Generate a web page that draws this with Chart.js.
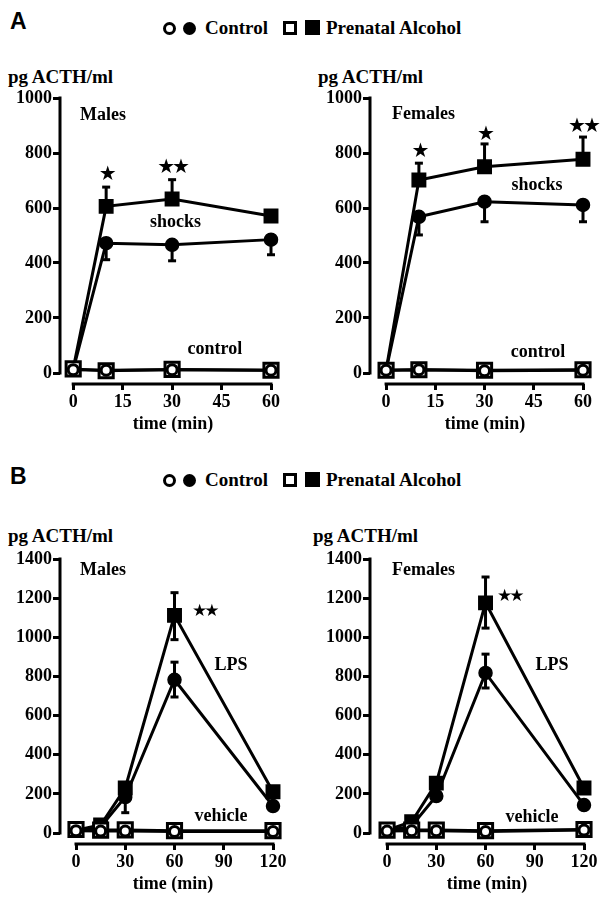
<!DOCTYPE html>
<html><head><meta charset="utf-8">
<script src="https://cdn.jsdelivr.net/npm/chart.js@4.4.1/dist/chart.umd.min.js"></script>
<style>
html,body{margin:0;padding:0;background:#fff;}
body{width:607px;height:902px;position:relative;overflow:hidden;font-family:"Liberation Serif","Times New Roman",serif;font-weight:bold;color:#000;}
.abs{position:absolute;white-space:nowrap;}
canvas{position:absolute;}
.letter{font-family:"Liberation Sans",Arial,sans-serif;font-size:23px;line-height:22px;font-weight:bold;}
.txt{font-size:19px;line-height:20px;}
.ttl{font-size:18px;line-height:20px;transform:translateX(-50%);}
.oc,.fc,.os,.fs{position:absolute;box-sizing:border-box;}
.oc{width:13px;height:13px;border:3px solid #000;border-radius:50%;background:#fff;}
.fc{width:13px;height:13px;border-radius:50%;background:#000;}
.os{width:14px;height:14px;border:3px solid #000;background:#fff;}
.fs{width:15px;height:15px;background:#000;}
</style></head>
<body>
<div class="abs letter" style="left:10px;top:10px;">A</div>
<div class="abs letter" style="left:10px;top:465px;">B</div>

<!-- legend A -->
<div class="oc" style="left:163px;top:22px;"></div>
<div class="fc" style="left:183px;top:22px;"></div>
<div class="abs txt" style="left:205px;top:18px;">Control</div>
<div class="os" style="left:283px;top:21px;"></div>
<div class="fs" style="left:305px;top:20px;"></div>
<div class="abs txt" style="left:326px;top:18px;">Prenatal Alcohol</div>
<!-- legend B -->
<div class="oc" style="left:163px;top:474px;"></div>
<div class="fc" style="left:183px;top:474px;"></div>
<div class="abs txt" style="left:205px;top:470px;">Control</div>
<div class="os" style="left:283px;top:473px;"></div>
<div class="fs" style="left:305px;top:472px;"></div>
<div class="abs txt" style="left:326px;top:470px;">Prenatal Alcohol</div>

<div class="abs txt" style="left:8px;top:67px;">pg ACTH/ml</div>
<div class="abs txt" style="left:318px;top:67px;">pg ACTH/ml</div>
<div class="abs txt" style="left:8px;top:526px;">pg ACTH/ml</div>
<div class="abs txt" style="left:313px;top:526px;">pg ACTH/ml</div>

<canvas id="aM" width="300" height="356" style="left:0px;top:78px;"></canvas>
<canvas id="aF" width="297" height="356" style="left:310px;top:78px;"></canvas>
<canvas id="bM" width="300" height="355" style="left:0px;top:539px;"></canvas>
<canvas id="bF" width="297" height="355" style="left:310px;top:539px;"></canvas>

<div class="abs ttl" style="left:173px;top:413px;">time (min)</div>
<div class="abs ttl" style="left:485px;top:413px;">time (min)</div>
<div class="abs ttl" style="left:173px;top:873px;">time (min)</div>
<div class="abs ttl" style="left:487px;top:873px;">time (min)</div>

<script>
// ---------- tick labels / categories ----------
const timeA = [0, 10, 30, 60];
const timeB = [0, 15, 30, 60, 120];
const xTicksA = [0, 15, 30, 45, 60];
const yTicksA = [0, 200, 400, 600, 800, 1000];
const xTicksB = [0, 30, 60, 90, 120];
const yTicksB = [0, 200, 400, 600, 800, 1000, 1200, 1400];

// ---------- Panel A: Males (footshock) ----------
const aMaleCtrlShock        = [12, 472, 466, 485];
const aMaleCtrlShockErrDown = [0, 60, 58, 55];
const aMalePaeShock         = [15, 606, 633, 571];
const aMalePaeShockErrUp    = [0, 70, 70, 0];
const aMaleCtrlControl      = [12, 10, 12, 10];
const aMalePaeControl       = [15, 8, 13, 10];

// ---------- Panel A: Females (footshock) ----------
const aFemCtrlShock         = [9, 568, 623, 611];
const aFemCtrlShockErrDown  = [0, 66, 73, 61];
const aFemPaeShock          = [10, 702, 750, 777];
const aFemPaeShockErrUp     = [0, 61, 83, 81];
const aFemCtrlControl       = [10, 12, 8, 10];
const aFemPaeControl        = [10, 12, 10, 12];

// ---------- Panel B: Males (LPS) ----------
const bMaleCtrlLps          = [12, 32, 184, 783, 138];
const bMaleCtrlLpsErrUp     = [0, 0, 0, 90, 0];
const bMaleCtrlLpsErrDown   = [0, 0, 80, 88, 0];
const bMalePaeLps           = [15, 41, 230, 1112, 211];
const bMalePaeLpsErrUp      = [0, 0, 0, 116, 0];
const bMalePaeLpsErrDown    = [0, 0, 0, 124, 0];
const bMaleCtrlVehicle      = [12, 10, 10, 8, 8];
const bMalePaeVehicle       = [18, 15, 16, 12, 12];

// ---------- Panel B: Females (LPS) ----------
const bFemCtrlLps           = [10, 36, 189, 818, 143];
const bFemCtrlLpsErrUp      = [0, 0, 0, 96, 0];
const bFemCtrlLpsErrDown    = [0, 0, 0, 77, 0];
const bFemPaeLps            = [15, 58, 255, 1176, 230];
const bFemPaeLpsErrUp       = [0, 0, 0, 132, 0];
const bFemPaeLpsErrDown     = [0, 0, 0, 129, 0];
const bFemCtrlVehicle       = [10, 12, 12, 8, 15];
const bFemPaeVehicle        = [15, 15, 15, 12, 18];

// ---------- annotations (text at data coordinates) ----------
const notesAM = [
  {t:'Males', x:2.1, y:938, a:'left'}, {t:'shocks', x:31, y:549, a:'center'}, {t:'control', x:43, y:87, a:'center'},
  {t:'★', x:10, y:722, a:'center', star:20}, {t:'★★', x:30, y:745, a:'center', star:20}
];
const notesAF = [
  {t:'Females', x:1.8, y:942, a:'left'}, {t:'shocks', x:46, y:684, a:'center'}, {t:'control', x:46.3, y:76, a:'center'},
  {t:'★', x:10, y:805, a:'center', star:20}, {t:'★', x:30, y:865, a:'center', star:20}, {t:'★★', x:60, y:896, a:'center', star:20}
];
const notesBM = [
  {t:'Males', x:2.4, y:1344, a:'left'}, {t:'LPS', x:94.4, y:858, a:'center'}, {t:'vehicle', x:88.3, y:87, a:'center'},
  {t:'★★', x:70.6, y:1130, a:'left', star:17}
];
const notesBF = [
  {t:'Females', x:3, y:1344, a:'left'}, {t:'LPS', x:100.5, y:858, a:'center'}, {t:'vehicle', x:88.3, y:82, a:'center'},
  {t:'★★', x:67, y:1207, a:'left', star:17}
];

// ---------- helpers ----------
const SERIF = '"Liberation Serif","Times New Roman",serif';
const pts = (xs, ys) => xs.map((t, i) => ({x: t, y: ys[i]}));

function ds(xs, ys, kind, errUp, errDown) {
  const filled = kind === 'fc' || kind === 'fs';
  const sq = kind === 'fs' || kind === 'os';
  return {
    data: pts(xs, ys),
    borderColor: '#000', borderWidth: 3, tension: 0, fill: false, clip: false,
    pointStyle: sq ? 'rect' : 'circle',
    pointRadius: sq ? (filled ? 9.5 : 10) : (filled ? 6.5 : 5),
    pointBackgroundColor: filled ? '#000' : '#fff',
    pointBorderColor: '#000',
    pointBorderWidth: filled ? 1.5 : 3,
    errUp: errUp || null, errDown: errDown || null
  };
}

const errorBarPlugin = {
  id: 'errbars',
  beforeDatasetsDraw(chart) {
    const {ctx, scales: {x, y}} = chart;
    ctx.save();
    ctx.strokeStyle = '#000'; ctx.lineWidth = 3; ctx.lineCap = 'butt';
    chart.data.datasets.forEach(d => {
      d.data.forEach((p, i) => {
        [[d.errUp, 1], [d.errDown, -1]].forEach(([arr, s]) => {
          if (!arr || !arr[i]) return;
          const px = x.getPixelForValue(p.x);
          const y0 = y.getPixelForValue(p.y);
          const y1 = y.getPixelForValue(p.y + s * arr[i]);
          ctx.beginPath(); ctx.moveTo(px, y0); ctx.lineTo(px, y1); ctx.stroke();
          ctx.beginPath(); ctx.moveTo(px - 4, y1); ctx.lineTo(px + 4, y1); ctx.stroke();
        });
      });
    });
    ctx.restore();
  }
};

const axisLinePlugin = {
  id: 'axislines',
  beforeDatasetsDraw(chart) {
    const {ctx, scales: {x, y}, chartArea} = chart;
    const xt = x.ticks, yt = y.ticks;
    ctx.save();
    ctx.strokeStyle = '#000'; ctx.lineWidth = 3; ctx.lineCap = 'square';
    ctx.beginPath();
    ctx.moveTo(chartArea.left, y.getPixelForValue(yt[0].value));
    ctx.lineTo(chartArea.left, y.getPixelForValue(yt[yt.length - 1].value));
    ctx.stroke();
    ctx.beginPath();
    ctx.moveTo(x.getPixelForValue(xt[0].value), chartArea.bottom);
    ctx.lineTo(x.getPixelForValue(xt[xt.length - 1].value), chartArea.bottom);
    ctx.stroke();
    ctx.restore();
  }
};

const notesPlugin = {
  id: 'notes',
  afterDatasetsDraw(chart, args, opts) {
    const {ctx, scales: {x, y}} = chart;
    ctx.save();
    ctx.fillStyle = '#000'; ctx.textBaseline = 'middle';
    (opts.items || []).forEach(n => {
      ctx.font = n.star ? n.star + 'px "DejaVu Sans",sans-serif' : 'bold 18px ' + SERIF;
      ctx.letterSpacing = n.star ? '-3px' : '0px';
      ctx.textAlign = n.a;
      ctx.fillText(n.t, x.getPixelForValue(n.x), y.getPixelForValue(n.y));
    });
    ctx.restore();
  }
};

function panel(id, spec) {
  const tickFont = {family: SERIF, size: 18, weight: 'bold'};
  const gridOpts = {drawOnChartArea: false, drawTicks: true, lineWidth: 3, color: '#000'};
  new Chart(document.getElementById(id), {
    type: 'line',
    data: {datasets: spec.datasets},
    options: {
      responsive: false, animation: false, events: [],
      layout: {padding: {top: 20, right: spec.padRight, bottom: 0, left: 0}},
      plugins: {legend: {display: false}, tooltip: {enabled: false}, notes: {items: spec.notes}},
      scales: {
        x: {
          type: 'linear', min: spec.xMin, max: spec.xMax,
          afterBuildTicks: s => { s.ticks = spec.xTicks.map(v => ({value: v})); },
          afterFit: s => { s.height = 50; },
          grid: Object.assign({tickLength: 6}, gridOpts),
          border: {display: false},
          ticks: {color: '#000', font: tickFont, padding: 2, maxRotation: 0, autoSkip: false, callback: v => String(v)}
        },
        y: {
          type: 'linear', min: spec.yMin, max: spec.yMax,
          afterBuildTicks: s => { s.ticks = spec.yTicks.map(v => ({value: v})); },
          afterFit: s => { s.width = 60; },
          grid: Object.assign({tickLength: 7}, gridOpts),
          border: {display: false},
          ticks: {color: '#000', font: tickFont, padding: 1, autoSkip: false, callback: v => String(v)}
        }
      }
    },
    plugins: [axisLinePlugin, errorBarPlugin, notesPlugin]
  });
}

panel('aM', {
  xMin: -4, xMax: 60, yMin: -40, yMax: 1000, xTicks: xTicksA, yTicks: yTicksA, padRight: 29, notes: notesAM,
  datasets: [
    ds(timeA, aMaleCtrlControl, 'oc'),
    ds(timeA, aMalePaeControl, 'os'),
    ds(timeA, aMaleCtrlShock, 'fc', null, aMaleCtrlShockErrDown),
    ds(timeA, aMalePaeShock, 'fs', aMalePaeShockErrUp, null)
  ]
});
panel('aF', {
  xMin: -4.9, xMax: 60, yMin: -40, yMax: 1000, xTicks: xTicksA, yTicks: yTicksA, padRight: 24, notes: notesAF,
  datasets: [
    ds(timeA, aFemCtrlControl, 'oc'),
    ds(timeA, aFemPaeControl, 'os'),
    ds(timeA, aFemCtrlShock, 'fc', null, aFemCtrlShockErrDown),
    ds(timeA, aFemPaeShock, 'fs', aFemPaeShockErrUp, null)
  ]
});
panel('bM', {
  xMin: -9.75, xMax: 120, yMin: -56, yMax: 1400, xTicks: xTicksB, yTicks: yTicksB, padRight: 27, notes: notesBM,
  datasets: [
    ds(timeB, bMaleCtrlVehicle, 'oc'),
    ds(timeB, bMalePaeVehicle, 'os'),
    ds(timeB, bMaleCtrlLps, 'fc', bMaleCtrlLpsErrUp, bMaleCtrlLpsErrDown),
    ds(timeB, bMalePaeLps, 'fs', bMalePaeLpsErrUp, bMalePaeLpsErrDown)
  ]
});
panel('bF', {
  xMin: -10.4, xMax: 120, yMin: -56, yMax: 1400, xTicks: xTicksB, yTicks: yTicksB, padRight: 23, notes: notesBF,
  datasets: [
    ds(timeB, bFemCtrlVehicle, 'oc'),
    ds(timeB, bFemPaeVehicle, 'os'),
    ds(timeB, bFemCtrlLps, 'fc', bFemCtrlLpsErrUp, bFemCtrlLpsErrDown),
    ds(timeB, bFemPaeLps, 'fs', bFemPaeLpsErrUp, bFemPaeLpsErrDown)
  ]
});
</script>
</body></html>
